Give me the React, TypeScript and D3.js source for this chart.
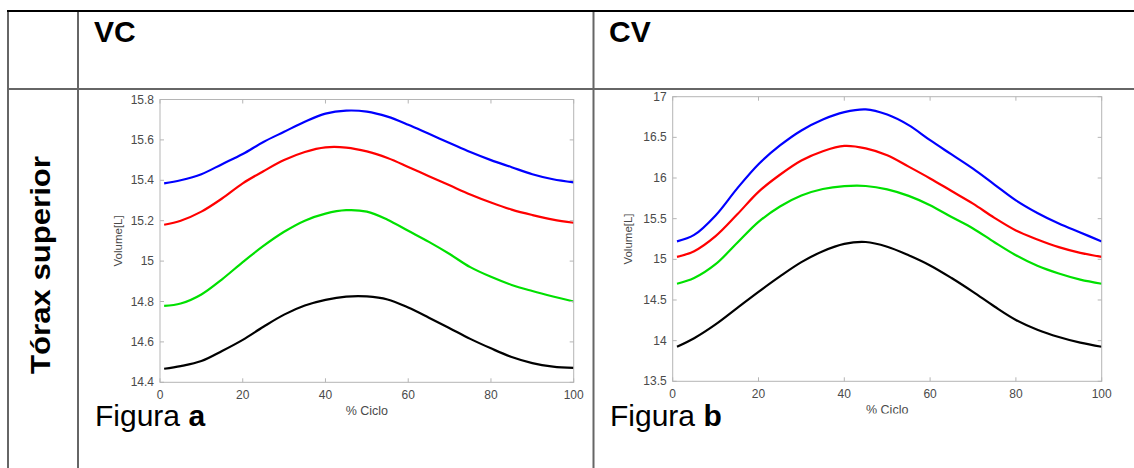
import React from "react";
import * as d3 from "d3";

// ---- data ----
const cicloX = [1, 5, 10, 15, 20, 25, 30, 35, 40, 45, 50, 55, 60, 65, 70, 75, 80, 85, 90, 95, 100];

// Figura a (VC)
const vcBlue = [15.385, 15.4, 15.43, 15.48, 15.53, 15.59, 15.64, 15.69, 15.73, 15.745, 15.74, 15.715, 15.675, 15.63, 15.585, 15.54, 15.5, 15.465, 15.43, 15.405, 15.39];
const vcRed = [15.18, 15.2, 15.245, 15.31, 15.385, 15.445, 15.5, 15.54, 15.563, 15.562, 15.543, 15.51, 15.466, 15.42, 15.375, 15.33, 15.29, 15.255, 15.228, 15.205, 15.19];
const vcGreen = [14.778, 14.79, 14.835, 14.91, 14.995, 15.075, 15.145, 15.2, 15.235, 15.252, 15.245, 15.205, 15.15, 15.095, 15.035, 14.97, 14.922, 14.882, 14.852, 14.825, 14.8];
const vcBlack = [14.467, 14.48, 14.505, 14.555, 14.61, 14.675, 14.735, 14.78, 14.808, 14.824, 14.825, 14.81, 14.77, 14.72, 14.668, 14.615, 14.568, 14.525, 14.495, 14.478, 14.471];

// Figura b (CV)
const cvBlue = [15.22, 15.3, 15.54, 15.87, 16.17, 16.4, 16.585, 16.72, 16.81, 16.844, 16.78, 16.65, 16.465, 16.29, 16.115, 15.92, 15.725, 15.57, 15.44, 15.33, 15.22];
const cvRed = [15.03, 15.1, 15.285, 15.55, 15.83, 16.04, 16.215, 16.33, 16.395, 16.365, 16.28, 16.14, 15.995, 15.84, 15.685, 15.51, 15.355, 15.245, 15.15, 15.08, 15.03];
const cvGreen = [14.7, 14.77, 14.94, 15.2, 15.46, 15.65, 15.785, 15.865, 15.9, 15.902, 15.86, 15.78, 15.665, 15.52, 15.38, 15.21, 15.05, 14.92, 14.825, 14.75, 14.7];
const cvBlack = [13.925, 14.03, 14.2, 14.4, 14.6, 14.79, 14.965, 15.1, 15.19, 15.213, 15.155, 15.05, 14.925, 14.77, 14.6, 14.42, 14.255, 14.135, 14.045, 13.975, 13.925];

const xTicks = [0, 20, 40, 60, 80, 100];
const yTicksA = [14.4, 14.6, 14.8, 15.0, 15.2, 15.4, 15.6, 15.8];
const yTicksB = [13.5, 14, 14.5, 15, 15.5, 16, 16.5, 17];

const seriesColors = ["#0000ff", "#ff0000", "#00e000", "#000000"];
const headers = ["VC", "CV"];
const rowLabel = "Tórax superior";
const xLabel = "% Ciclo";
const yLabel = "Volume[L]";

const FONT = "'Liberation Sans', Arial, Helvetica, sans-serif";

type PanelProps = {
  left: number;
  right: number;
  top: number;
  bottom: number;
  yDomain: [number, number];
  yTicks: number[];
  series: number[][];
  yLabelX: number;
  figLetter: string;
  figX: number;
  clipXLabel?: number;
  id: string;
};

function Panel(p: PanelProps) {
  const x = d3.scaleLinear().domain([0, 100]).range([p.left, p.right]);
  const y = d3.scaleLinear().domain(p.yDomain).range([p.bottom, p.top]);
  const line = d3
    .line<number>()
    .x((_, i) => x(cicloX[i]))
    .y((d) => y(d))
    .curve(d3.curveCatmullRom.alpha(0.5));
  const fmt = (v: number) => String(+v.toFixed(1));
  const tk = 4;
  const boxColor = "#b5b5b5";
  const labelColor = "#4a4a4a";
  const cx = (p.left + p.right) / 2;
  return (
    <g>
      {p.clipXLabel !== undefined && (
        <defs>
          <clipPath id={"clip-" + p.id}>
            <rect x={0} y={0} width={1134} height={p.clipXLabel} />
          </clipPath>
        </defs>
      )}
      {p.series.map((s, i) => (
        <path key={i} d={line(s) || ""} fill="none" stroke={seriesColors[i]} strokeWidth={2.2} />
      ))}
      <rect x={p.left} y={p.top} width={p.right - p.left} height={p.bottom - p.top} fill="none" stroke={boxColor} strokeWidth={1} />
      {xTicks.map((t) => (
        <g key={"x" + t}>
          <line x1={x(t)} x2={x(t)} y1={p.bottom} y2={p.bottom - tk} stroke={boxColor} />
          <line x1={x(t)} x2={x(t)} y1={p.top} y2={p.top + tk} stroke={boxColor} />
          <text x={x(t)} y={p.bottom + 16.5} textAnchor="middle" fontSize={12} fill={labelColor} fontFamily={FONT}>
            {t}
          </text>
        </g>
      ))}
      {p.yTicks.map((t) => (
        <g key={"y" + t}>
          <line x1={p.left} x2={p.left + tk} y1={y(t)} y2={y(t)} stroke={boxColor} />
          <line x1={p.right} x2={p.right - tk} y1={y(t)} y2={y(t)} stroke={boxColor} />
          <text x={p.left - 6} y={y(t) + 4} textAnchor="end" fontSize={12} fill={labelColor} fontFamily={FONT}>
            {fmt(t)}
          </text>
        </g>
      ))}
      <text
        x={cx}
        y={p.bottom + 33}
        textAnchor="middle"
        fontSize={12.5}
        fill={labelColor}
        fontFamily={FONT}
        clipPath={p.clipXLabel !== undefined ? `url(#clip-${p.id})` : undefined}
      >
        {xLabel}
      </text>
      <text
        transform={`translate(${p.yLabelX},${(p.top + p.bottom) / 2}) rotate(-90)`}
        textAnchor="middle"
        dy="0.35em"
        fontSize={11.5}
        fill={labelColor}
        fontFamily={FONT}
      >
        {yLabel}
      </text>
      <text x={p.figX} y={425.5} fontSize={30} fill="#000" fontFamily={FONT}>
        Figura <tspan fontWeight="bold">{p.figLetter}</tspan>
      </text>
    </g>
  );
}

export default function App() {
  const W = 1134;
  const H = 468;
  const gridColor = "#666";
  return (
    <svg
      width={W}
      height={H}
      style={{ position: "absolute", left: 0, top: 0, background: "#fff" }}
      xmlns="http://www.w3.org/2000/svg"
    >
      <rect x={0} y={0} width={W} height={H} fill="#fff" />
      {/* table lines */}
      <line x1={8} x2={8} y1={11} y2={H} stroke={gridColor} strokeWidth={2} />
      <line x1={78} x2={78} y1={11} y2={H} stroke={gridColor} strokeWidth={2} />
      <line x1={593.5} x2={593.5} y1={11} y2={H} stroke={gridColor} strokeWidth={2} />
      <line x1={7} x2={W} y1={89} y2={89} stroke={gridColor} strokeWidth={2} />
      <line x1={7} x2={W} y1={11} y2={11} stroke="#000" strokeWidth={2.2} />

      {/* headers */}
      <text x={94} y={41.5} fontSize={30} fontWeight="bold" fontFamily={FONT} fill="#000">
        {headers[0]}
      </text>
      <text x={609} y={41.5} fontSize={30} fontWeight="bold" fontFamily={FONT} fill="#000">
        {headers[1]}
      </text>
      <text
        transform="translate(50,265) rotate(-90)"
        textAnchor="middle"
        fontSize={27}
        fontWeight="bold"
        fontFamily={FONT}
        fill="#000"
        textLength={218}
        lengthAdjust="spacingAndGlyphs"
      >
        {rowLabel}
      </text>

      <Panel
        id="a"
        left={160}
        right={573.7}
        top={99.5}
        bottom={382.3}
        yDomain={[14.4, 15.8]}
        yTicks={yTicksA}
        series={[vcBlue, vcRed, vcGreen, vcBlack]}
        yLabelX={118}
        figLetter="a"
        figX={95}
      />
      <Panel
        id="b"
        left={672.7}
        right={1101.7}
        top={96.7}
        bottom={381.3}
        yDomain={[13.5, 17]}
        yTicks={yTicksB}
        series={[cvBlue, cvRed, cvGreen, cvBlack]}
        yLabelX={628}
        figLetter="b"
        figX={610}
        clipXLabel={413.5}
      />
    </svg>
  );
}
